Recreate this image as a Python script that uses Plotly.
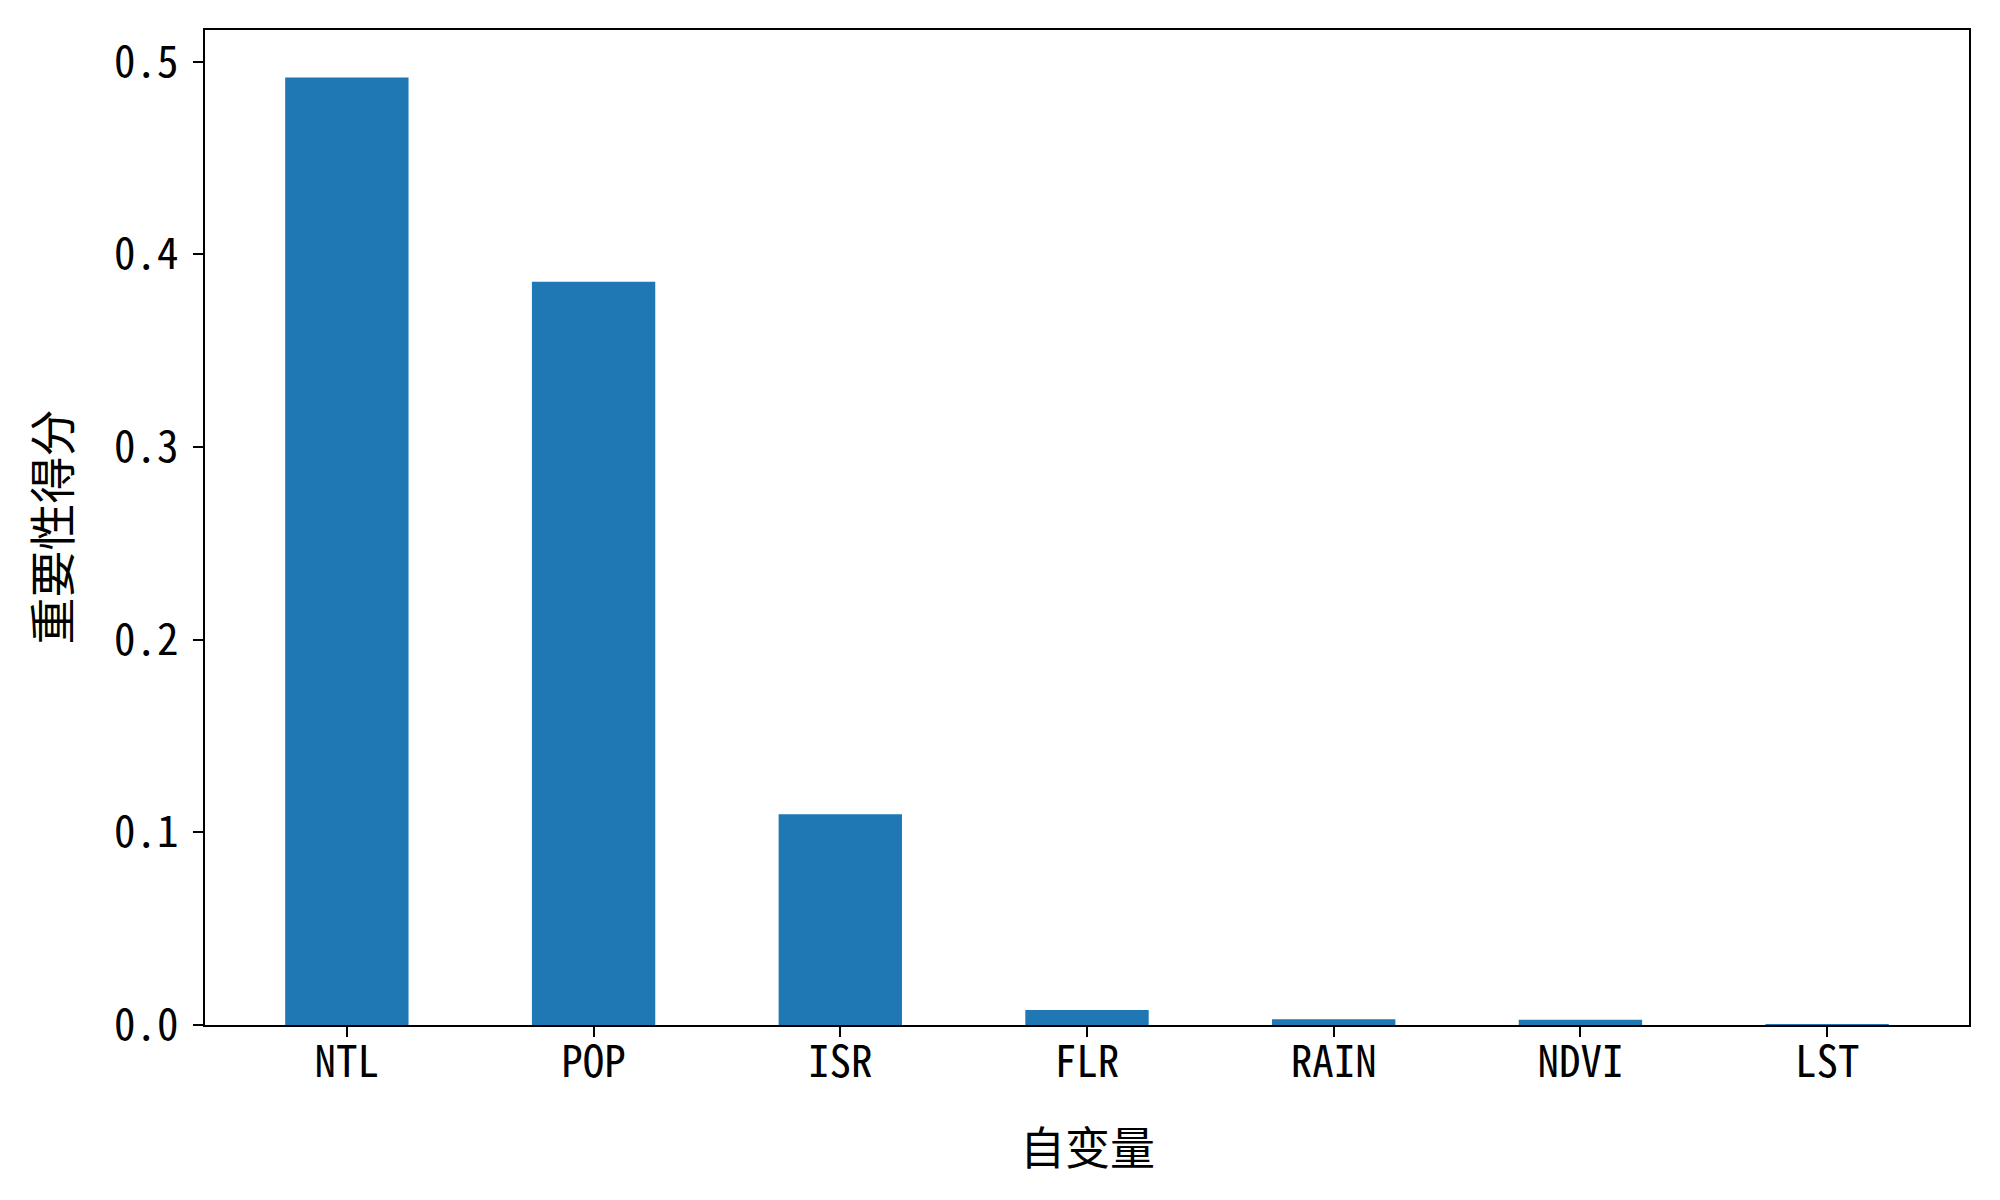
import plotly.graph_objects as go

# feature importance scores
features = ['NTL', 'POP', 'ISR', 'FLR', 'RAIN', 'NDVI', 'LST']
scores = [0.4917, 0.3858, 0.1094, 0.0078, 0.0030, 0.0027, 0.0001]
y_ticks = [0.0, 0.1, 0.2, 0.3, 0.4, 0.5]
y_tick_text = ['0.0', '0.1', '0.2', '0.3', '0.4', '0.5']

FONT = '"Noto Sans Mono CJK SC", "DejaVu Sans Mono", "Noto Sans CJK SC", monospace'

fig = go.Figure()
fig.add_trace(go.Bar(
    x=list(range(len(features))),
    y=scores,
    width=0.5,
    marker_color='#1f77b4',
    marker_line_width=0,
))

axis_common = dict(
    showline=True, linecolor='black', linewidth=2, mirror=True,
    ticks='outside', ticklen=10, tickwidth=2, tickcolor='black',
    showgrid=False, zeroline=False,
    tickfont=dict(family=FONT, size=43, color='black'),
)

fig.update_xaxes(
    range=[-0.575, 6.575],
    tickmode='array',
    tickvals=list(range(len(features))),
    ticktext=features,
    ticklabelstandoff=-12,
    **axis_common
)
fig.update_yaxes(
    range=[0, 0.5164],
    tickmode='array',
    tickvals=y_ticks,
    ticktext=y_tick_text,
    ticklabelstandoff=6,
    **axis_common
)

fig.add_annotation(text='自变量', xref='paper', yref='paper', x=0.5, y=0,
                   yshift=-120, xanchor='center', yanchor='middle', showarrow=False,
                   font=dict(family='"Noto Sans CJK SC"', size=45, color='black'))
fig.add_annotation(text='重要性得分', xref='paper', yref='paper', x=0, y=0.5,
                   xshift=-156, xanchor='center', yanchor='middle', showarrow=False,
                   textangle=-90,
                   font=dict(family='"Noto Sans CJK SC"', size=47, color='black'))

fig.update_layout(
    width=1992, height=1192,
    margin=dict(l=197, r=31, t=22, b=175),
    plot_bgcolor='white', paper_bgcolor='white',
    showlegend=False,
    font=dict(family=FONT),
)

fig.write_html("out.html")
